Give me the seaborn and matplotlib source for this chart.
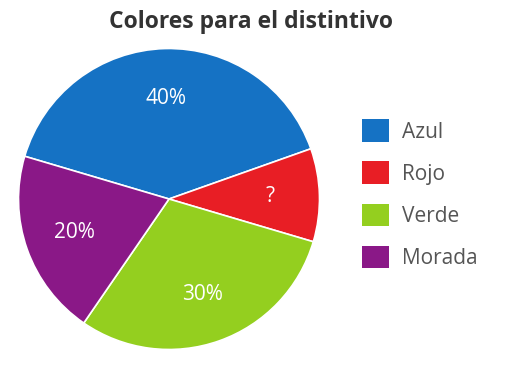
import matplotlib
matplotlib.use("Agg")
import matplotlib.pyplot as plt
import seaborn as sns
from matplotlib.patches import Patch

categories = ["Azul", "Rojo", "Verde", "Morada"]
values = [40, 10, 30, 20]
slice_labels = ["40%", "?", "30%", "20%"]
colors = ["#1572c4", "#e81e25", "#94cf1f", "#8a1887"]
title = "Colores para el distintivo"

sns.set_theme(style="white")
plt.rcParams['font.family'] = ['Open Sans', 'DejaVu Sans']

W, H = 514, 366
fig = plt.figure(figsize=(W / 100, H / 100), dpi=100)
cx, cy, r = 169, 199, 152
ax = fig.add_axes([(cx - r) / W, (H - cy - r) / H, 2 * r / W, 2 * r / H])

wedges, texts = ax.pie(values, colors=colors, startangle=163.5, counterclock=False,
                       labels=slice_labels, labeldistance=0.67,
                       wedgeprops=dict(edgecolor="white", linewidth=1.2),
                       textprops=dict(color="white", fontsize=15))
for t in texts:
    t.set_ha("center")
    t.set_va("center")
ax.set_xlim(-1.01, 1.01)
ax.set_ylim(-1.01, 1.01)
ax.set_aspect("equal")
ax.axis("off")

fig.text(251 / W, 1 - 22 / H, title, ha="center", va="center",
         fontsize=16.5, fontweight="bold", color="#333333")

handles = [Patch(facecolor=c, edgecolor="none") for c in colors]
leg = fig.legend(handles, categories, loc="upper left",
                 bbox_to_anchor=(354 / W, 1 - 111 / H), frameon=False,
                 fontsize=15, handlelength=1.3, handleheight=1.3,
                 labelspacing=0.9, handletextpad=0.6, borderaxespad=0)
for t in leg.get_texts():
    t.set_color("#555555")

fig.savefig("out.png", dpi=100)
